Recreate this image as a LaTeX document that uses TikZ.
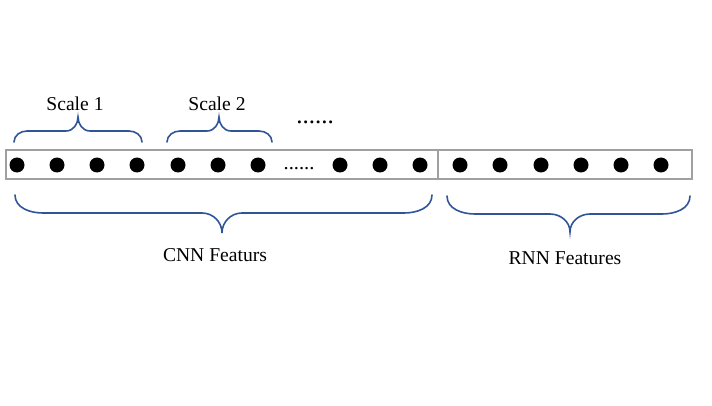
\documentclass[tikz,border=0pt]{standalone}
\usepackage{fontspec}
\setmainfont{Liberation Serif}
\definecolor{braceblue}{RGB}{47,85,151}
\definecolor{boxgray}{RGB}{160,160,160}
\tikzset{
  brace/.style={line width=1.6pt,braceblue,line cap=round},
  dot/.style={circle,fill=black,inner sep=0pt,minimum size=15pt},
  lbl/.style={font=\fontsize{19.6}{22}\selectfont,inner sep=0pt},
}
\begin{document}
\begin{tikzpicture}[x=1pt,y=1pt]
        \useasboundingbox (0,0) rectangle (712,405);
        % feature vector
        \draw[boxgray,line width=1.5pt] (6,226) rectangle (692,255);
        \draw[boxgray,line width=1.5pt] (438,226) -- (438,255);
        \foreach \x [count=\i] in {17,57,97,137,178,218,258,340,380,420,460,500,541,581,621,661}
            \node[dot] (d\i) at (\x,240) {};
        \node[font=\fontsize{20.5}{22}\selectfont,inner sep=0pt,anchor=base] (gap) at (299,236) {......};
        % scale braces
        \draw[brace] (14,263) to[out=90,in=180] (27,274) -- (66,274) [out=0,in=-90] to (78,288) [out=-90,in=180] to (90,274) -- (129,274) [out=0,in=90] to (142,263);
        \draw[brace] (167,263) to[out=90,in=180] (180,274) -- (207,274) [out=0,in=-90] to (219,288) [out=-90,in=180] to (231,274) -- (259,274) [out=0,in=90] to (272,263);
        \node[lbl] (s1) at (75,301) {Scale 1};
        \node[lbl] (s2) at (217,301) {Scale 2};
        \node[font=\fontsize{25}{27}\selectfont,inner sep=0pt,anchor=base] (more) at (315,281) {......};
        % feature braces
        \draw[brace] (15,210) [out=-90,in=180] to (43,192) -- (202,192) [out=0,in=90] to (222,172) [out=90,in=180] to (242,192) -- (404,192) [out=0,in=-90] to (432,210);
        \draw[brace] (447,209) [out=-90,in=180] to (475,191) -- (550,191) [out=0,in=90] to (570,173) [out=90,in=180] to (590,191) -- (662,191) [out=0,in=-90] to (690,209);
        \node[lbl] (cnn) at (215,150) {CNN Featurs};
        \node[lbl] (rnn) at (565,147) {RNN Features};
        \end{tikzpicture}
\end{document}
